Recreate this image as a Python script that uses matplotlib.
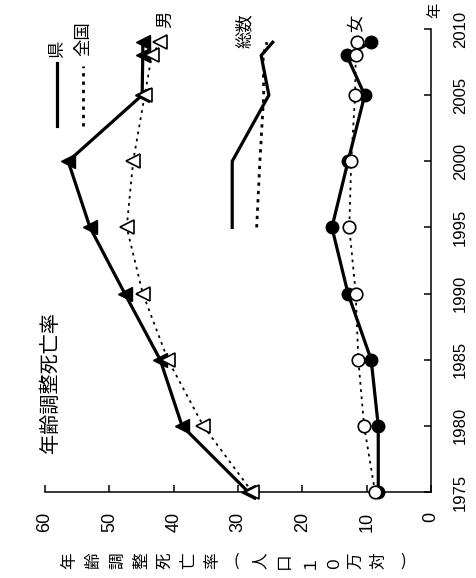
import numpy as np
import matplotlib
matplotlib.use('Agg')
import matplotlib.pyplot as plt

plt.rcParams['font.family'] = ['Liberation Sans', 'Noto Sans CJK JP', 'DejaVu Sans']
JP = ['Noto Sans CJK JP', 'DejaVu Sans']

# Data (age-adjusted death rate per 100k)
years = [1975, 1980, 1985, 1990, 1995, 2000, 2005, 2008, 2009]
male_pref = [28.4, 38.7, 42.1, 47.6, 53.0, 56.4, 44.9, 44.8, 44.8]
male_nat = [27.8, 35.4, 40.9, 44.8, 47.3, 46.3, 44.5, 43.4, 42.1]
female_pref = [8.2, 8.2, 9.3, 12.9, 15.4, 12.9, 10.3, 13.1, 9.3]
female_nat = [8.7, 10.4, 11.3, 11.7, 12.7, 12.4, 11.8, 11.7, 11.5]
total_years = [1995, 2000, 2005, 2008, 2009]
total_pref = [30.9, 30.9, 25.2, 26.4, 24.6]
total_nat = [27.1, 26.6, 26.0, 26.1, 25.5]

value_ticks = [0, 10, 20, 30, 40, 50, 60]
year_ticks = [1975, 1980, 1985, 1990, 1995, 2000, 2005, 2010]
ylabel = '年齢調整死亡率（人口１０万対）'

fig = plt.figure(figsize=(4.77, 5.78), dpi=100)
ax = fig.add_axes([45/477, 86/578, 386/477, 463/578])

# chart is drawn rotated: x = rate (reversed), y = year
ax.plot(male_pref, years, color='black', lw=2.3, marker='<', ms=10,
        mfc='black', mec='black', clip_on=False, zorder=3)
ax.plot(male_nat, years, color='black', lw=1.3, ls=(0, (1.5, 2.5)), marker='<', ms=10,
        mfc='white', mec='black', mew=1.2, clip_on=False, zorder=4)
ax.plot(female_pref, years, color='black', lw=2.3, marker='o', ms=9,
        mfc='black', mec='black', clip_on=False, zorder=3)
ax.plot(female_nat, years, color='black', lw=1.3, ls=(0, (1.5, 2.5)), marker='o', ms=9,
        mfc='white', mec='black', mew=1.2, clip_on=False, zorder=4)
ax.plot(total_pref, total_years, color='black', lw=2.3, clip_on=False)
ax.plot(total_nat, total_years, color='black', lw=2, ls=(0, (1.2, 1.8)), clip_on=False)

ax.set_xlim(60, 0)
ax.set_ylim(1975, 2010)
for s in ['top', 'left']:
    ax.spines[s].set_visible(False)
for s in ['bottom', 'right']:
    ax.spines[s].set_linewidth(1.1)
ax.set_xticks(value_ticks)
ax.set_yticks(year_ticks)
ax.yaxis.tick_right()
ax.tick_params(axis='both', direction='in', length=5, width=1.1)
ax.tick_params(axis='x', labelsize=13, pad=14, labelrotation=90)
ax.tick_params(axis='y', labelsize=12, pad=16, labelrotation=90)
for t in ax.get_yticklabels():
    t.set_va('center')

# legend & labels
ax.plot([58.1, 58.1], [2002.7, 2007.4], color='black', lw=2.3, clip_on=False)
ax.plot([54.1, 54.1], [2002.7, 2007.2], color='black', lw=2, ls=(0, (1.2, 1.8)), clip_on=False)
kw = dict(rotation=90, ha='center', va='center', fontsize=12.5, family=JP)
ax.text(58.1, 2008.5, '県', **kw)
ax.text(54.1, 2009.3, '全国', **kw)
ax.text(41.3, 2010.7, '男', **kw)
ax.text(28.9, 2009.9, '総数', **kw)
ax.text(11.8, 2010.4, '女', **kw)
ax.text(-0.6, 2011.4, '年', rotation=90, ha='center', va='center', fontsize=11, family=JP)
ax.text(59.2, 1983.3, '年齢調整死亡率', rotation=90, ha='center', va='center',
        fontsize=14.5, family=JP)

# vertical-style axis title, each character turned
x0, step = 70, 23.8
for i, ch in enumerate(ylabel):
    if ch in '（）':
        fig.text((x0 + i * step) / 477, 1 - 561/578, {'（': '(', '）': ')'}[ch],
                 ha='center', va='center', fontsize=12, family=JP)
    else:
        fig.text((x0 + i * step) / 477, 1 - 561/578, ch, rotation=90,
                 ha='center', va='center', fontsize=12, family=JP)

fig.savefig('out.png', dpi=100)
